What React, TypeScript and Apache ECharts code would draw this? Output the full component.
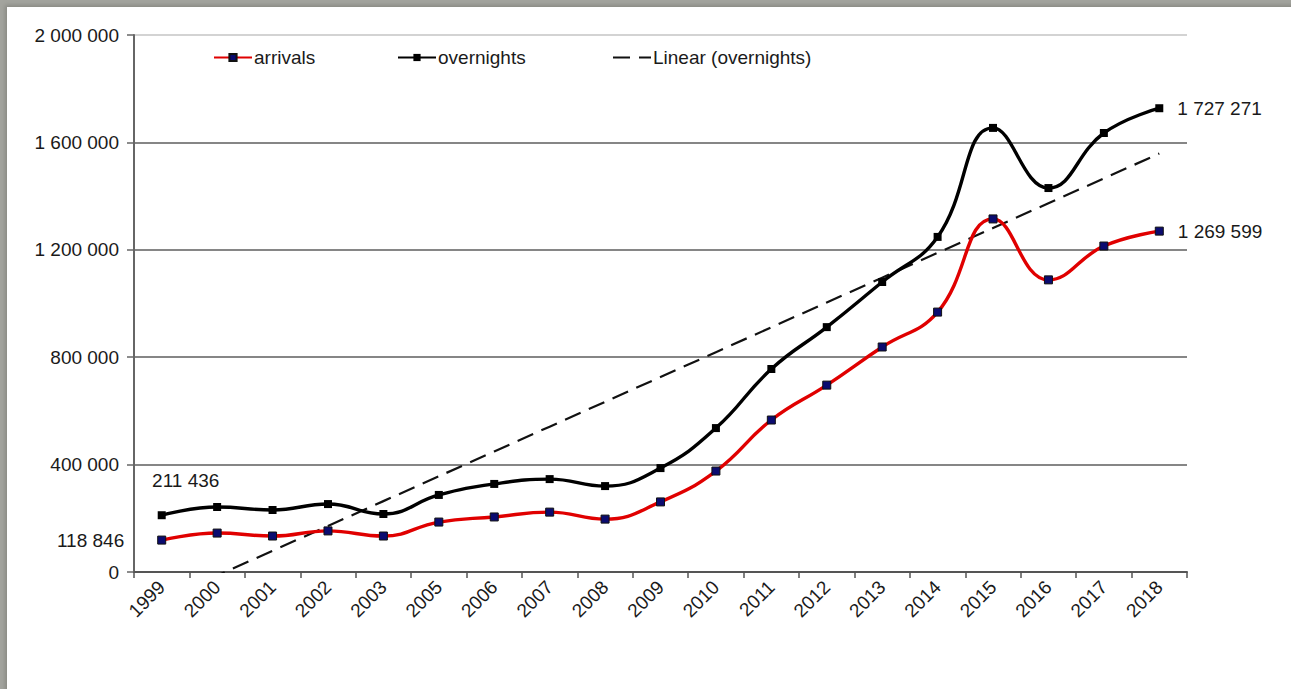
import React, { useEffect, useRef } from "react";
import * as echarts from "echarts";

// Tourist arrivals and overnight stays per year
const years = [
  "1999", "2000", "2001", "2002", "2003", "2005", "2006", "2007", "2008", "2009",
  "2010", "2011", "2012", "2013", "2014", "2015", "2016", "2017", "2018",
];
const arrivals = [
  118846, 145000, 134000, 153000, 134000, 186000, 205000, 223000, 197000, 261000,
  376000, 566000, 696000, 838000, 968000, 1315000, 1088000, 1214000, 1269599,
];
const overnights = [
  211436, 242000, 231000, 253000, 216000, 287000, 328000, 346000, 320000, 387000,
  536000, 756000, 912000, 1080000, 1248000, 1654000, 1430000, 1635000, 1727271,
];
const yTicks = { min: 0, max: 2000000, interval: 400000 };

const FONT = "'Liberation Sans', Arial, sans-serif";
const TEXT = "#1a1a1a";

const fmt = (v: number) => String(Math.round(v)).replace(/\B(?=(\d{3})+(?!\d))/g, " ");

// Least-squares linear trend of the overnights series (x = category index)
function linearTrend(values: number[]): number[] {
  const n = values.length;
  const mx = (n - 1) / 2;
  const my = values.reduce((a, b) => a + b, 0) / n;
  let sxy = 0;
  let sxx = 0;
  values.forEach((v, i) => {
    sxy += (i - mx) * (v - my);
    sxx += (i - mx) * (i - mx);
  });
  const slope = sxy / sxx;
  return values.map((_, i) => my + slope * (i - mx));
}

export default function App() {
  const ref = useRef<HTMLDivElement>(null);

  useEffect(() => {
    document.body.style.margin = "0";
    if (!ref.current) return;
    const chart = echarts.init(ref.current, null, { renderer: "svg" });
    const last = years.length - 1;
    const trend = linearTrend(overnights);

    const labelStyle = { show: true, color: TEXT, fontFamily: FONT, fontSize: 19, formatter: (p: any) => fmt(p.value) };

    const arrivalsData = arrivals.map((v, i) => {
      if (i === 0) return { value: v, label: { ...labelStyle, position: "left", distance: 33 } };
      if (i === last) return { value: v, label: { ...labelStyle, position: "right", distance: 14 } };
      return v;
    });
    const overnightsData = overnights.map((v, i) => {
      if (i === 0) return { value: v, label: { ...labelStyle, position: "top", distance: 21, offset: [24, 0] } };
      if (i === last) return { value: v, label: { ...labelStyle, position: "right", distance: 14 } };
      return v;
    });

    const legendBase = {
      top: 36,
      itemWidth: 38,
      itemHeight: 9,
      itemGap: 0,
      textStyle: { color: TEXT, fontFamily: FONT, fontSize: 19, padding: [0, 0, 0, -3] },
      selectedMode: false,
    };

    chart.setOption({
      animation: false,
      backgroundColor: "transparent",
      textStyle: { fontFamily: FONT, color: TEXT },
      grid: { left: 127, right: 104, top: 28, bottom: 117, containLabel: false },
      legend: [
        { ...legendBase, left: 201, data: ["arrivals"] },
        { ...legendBase, left: 385, data: ["overnights"] },
        {
          ...legendBase,
          left: 600,
          data: [{ name: "Linear (overnights)", itemStyle: { opacity: 0 } }],
        },
      ],
      xAxis: {
        type: "category",
        data: years,
        boundaryGap: true,
        axisLine: { show: true, lineStyle: { color: "#555", width: 2 } },
        axisTick: { show: true, interval: 0, length: 6, lineStyle: { color: "#555", width: 1.5 } },
        axisLabel: { interval: 0, rotate: 45, margin: 12, color: TEXT, fontFamily: FONT, fontSize: 19 },
        splitLine: { show: false },
      },
      yAxis: {
        type: "value",
        min: yTicks.min,
        max: yTicks.max,
        interval: yTicks.interval,
        axisLine: { show: true, lineStyle: { color: "#666", width: 2 } },
        axisTick: { show: true, length: 7, lineStyle: { color: "#666", width: 1.5 } },
        axisLabel: {
          margin: 15,
          color: TEXT,
          fontFamily: FONT,
          fontSize: 19,
          formatter: (v: number) => fmt(v),
        },
        splitLine: {
          show: true,
          lineStyle: {
            width: 1.5,
            color: ["#5e5e5e", "#5e5e5e", "#5e5e5e", "#5e5e5e", "#5e5e5e", "#c4c4c4"],
          },
        },
      },
      series: [
        {
          name: "Linear (overnights)",
          type: "line",
          data: trend,
          symbol: "none",
          smooth: false,
          clip: true,
          lineStyle: { color: "#111", width: 2.2, type: [17, 9] },
          itemStyle: { color: "#111" },
          z: 1,
        },
        {
          name: "arrivals",
          type: "line",
          data: arrivalsData,
          smooth: 0.45,
          symbol: "rect",
          symbolSize: 8,
          showAllSymbol: true,
          lineStyle: { color: "#e00000", width: 3.4 },
          itemStyle: { color: "#0b0b70", borderColor: "#111", borderWidth: 1 },
          z: 3,
        },
        {
          name: "overnights",
          type: "line",
          data: overnightsData,
          smooth: 0.45,
          symbol: "rect",
          symbolSize: 8,
          showAllSymbol: true,
          lineStyle: { color: "#000", width: 3.4 },
          itemStyle: { color: "#000" },
          z: 4,
        },
      ],
    });
    return () => chart.dispose();
  }, []);

  return (
    <div style={{ position: "relative", width: 1291, height: 689, background: "#a3a49e", overflow: "hidden" }}>
      <div
        style={{
          position: "absolute",
          left: 7,
          top: 7,
          width: 1291,
          height: 689,
          background: "#fff",
          boxShadow: "-2px -2px 4px rgba(120,120,115,0.6)",
        }}
      >
        <div ref={ref} style={{ width: 1284, height: 682 }} />
      </div>
    </div>
  );
}
